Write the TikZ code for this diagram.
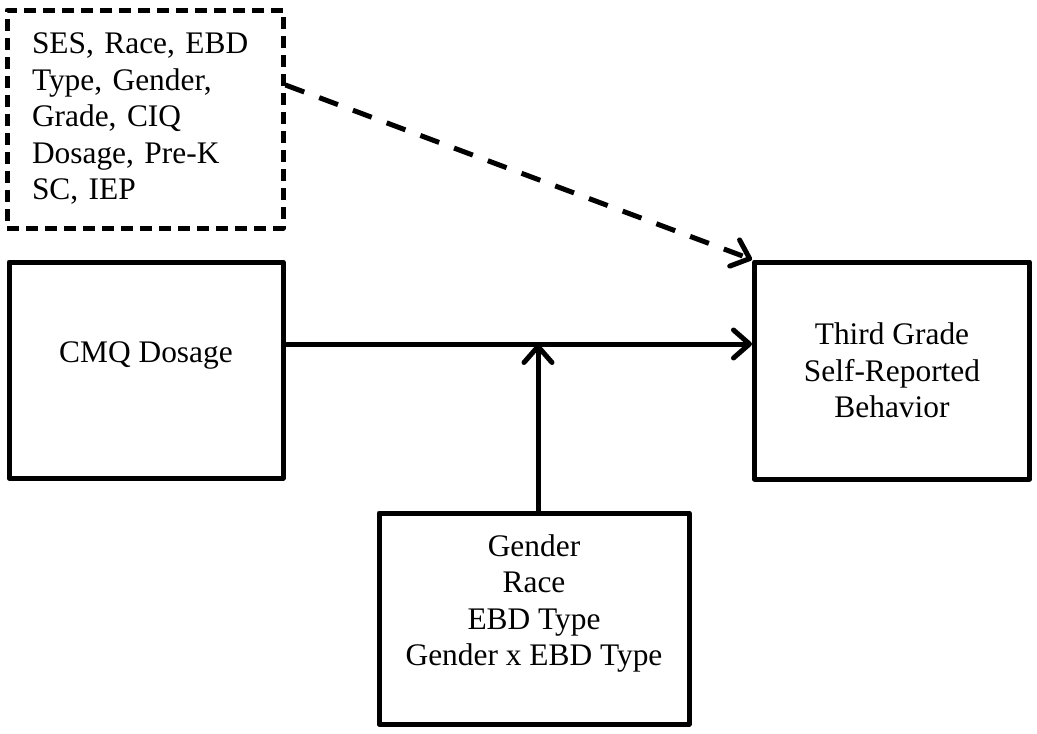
\documentclass[tikz,border=0pt]{standalone}
\usepackage{fontspec}
\setmainfont{Liberation Serif}
\usetikzlibrary{arrows.meta}

\begin{document}
\begin{tikzpicture}[
    x=1pt, y=-1pt,
    box/.style={draw, line width=5pt, line join=round, fill=white, align=center, inner sep=0pt,
                font=\fontsize{31.4}{36.5}\selectfont},          % Style for the solid boxes
    covbox/.style={box, dash pattern=on 12pt off 7pt, align=left, text width=226pt}, % Style for the dashed box
    link/.style={line width=5pt, -{Straight Barb[round, length=16pt, width=28pt]}}  % Style for the arrows
    ]
    \useasboundingbox (0,0) rectangle (1037,734);

    % Covariates (dashed box)
    \node[covbox, minimum width=276pt, minimum height=218pt] (cov) at (145,119)
        {SES, Race, EBD\\Type, Gender,\\Grade, CIQ\\Dosage, Pre-K\\SC, IEP};

    % Predictor, outcome and moderators
    \node[box, minimum width=274pt, minimum height=216pt] (cmq) at (146,370) {CMQ Dosage\\~};
    \node[box, minimum width=275pt, minimum height=217pt] (out) at (892,370.5)
        {Third Grade\\Self-Reported\\Behavior};
    \node[box, minimum width=310pt, minimum height=211pt] (mod) at (534,618.5)
        {Gender\\Race\\EBD Type\\Gender x EBD Type\\~};

    % Point where the moderation arrow meets the main path
    \coordinate (meet) at (538,344);

    % Arrows
    \draw[link] (cmq.east |- meet) -- (out.west |- meet);
    \draw[link] (meet |- mod.north) -- (meet);
    \draw[link, dash pattern=on 20pt off 16pt] ([yshift=34pt]cov.east) -- (out.north west);

\end{tikzpicture}
\end{document}
